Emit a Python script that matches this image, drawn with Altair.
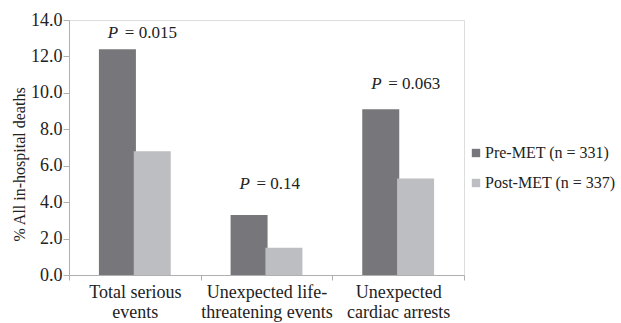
import altair as alt
import pandas as pd

categories = ["Total serious\nevents", "Unexpected life-\nthreatening events", "Unexpected\ncardiac arrests"]
groups = ["Pre-MET (n = 331)", "Post-MET (n = 337)"]
pre_values = [12.4, 3.3, 9.1]
post_values = [6.8, 1.5, 5.3]
p_values = ["= 0.015", "= 0.14", "= 0.063"]
p_label_y = [13.3, 5.0, 10.5]
colors = ["#77777b", "#bdbec1"]

rows = []
for c, a, b in zip(categories, pre_values, post_values):
    rows.append({"cat": c, "group": groups[0], "value": a})
    rows.append({"cat": c, "group": groups[1], "value": b})
df = pd.DataFrame(rows)
pdf = pd.DataFrame({"cat": categories, "p": p_values, "y": p_label_y, "P": ["P"] * 3})

FONT = "Liberation Serif"

x = alt.X("cat:N", sort=categories, title=None,
          scale=alt.Scale(paddingInner=0.0, paddingOuter=0.0),
          axis=alt.Axis(labelExpr="split(datum.label, '\\n')", labelAngle=0,
                        labelFontSize=18, labelLineHeight=20,
                        labelPadding=3, labelOverlap=False,
                        tickBand="extent", tickSize=5, labelLimit=300))

yaxis = alt.Axis(values=[0, 2, 4, 6, 8, 10, 12, 14], format=".1f", grid=False,
                 labelFontSize=18, labelOverlap=False, labelBound=False, labelFlush=False,
                 titleFontSize=16, titleFontWeight="normal",
                 titleX=-50, titleY=144, titleBaseline="middle", titleAlign="center",
                 titleAngle=270,
                 tickSize=6, labelPadding=1, tickCount=8)
yscale = alt.Scale(domain=[0, 14], nice=False, zero=True)

bars = alt.Chart(df).mark_bar(size=37).encode(
    x=x,
    xOffset=alt.XOffset("group:N", sort=groups,
                        scale=alt.Scale(paddingInner=0, paddingOuter=0.89)),
    y=alt.Y("value:Q", scale=yscale, title="% All in-hospital deaths", axis=yaxis),
    color=alt.Color("group:N", sort=groups,
                    scale=alt.Scale(domain=groups, range=colors),
                    legend=alt.Legend(title=None, orient="none", legendX=399, legendY=125,
                                      symbolType="square", symbolSize=70,
                                      symbolStrokeWidth=0,
                                      labelFontSize=16,
                                      rowPadding=14, labelOffset=1, labelLimit=300)),
)

ptext = alt.Chart(pdf).mark_text(fontSize=17, fontStyle="italic",
                                 align="left", dx=-27).encode(
    x=alt.X("cat:N", sort=categories),
    y=alt.Y("y:Q", scale=yscale, title="% All in-hospital deaths", axis=yaxis),
    text="P:N")
vtext = alt.Chart(pdf).mark_text(fontSize=17, align="left", dx=-10).encode(
    x=alt.X("cat:N", sort=categories),
    y=alt.Y("y:Q", scale=yscale, title="% All in-hospital deaths", axis=yaxis),
    text="p:N")

chart = alt.layer(bars, ptext, vtext).properties(
    width=395, height=255,
    autosize=alt.AutoSizeParams(type="none"),
    padding={"left": 69, "top": 20, "right": 157, "bottom": 48},
).configure_view(stroke=None).configure(
    background="white", font=FONT
).configure_axis(
    labelFont=FONT, titleFont=FONT, labelColor="#222222", titleColor="#222222",
    domainColor="#b0b0b0", tickColor="#b0b0b0"
).configure_legend(
    labelFont=FONT, labelColor="#222222"
).configure_text(
    font=FONT, color="#222222"
)

chart.save("out.html", embed_options={"renderer": "svg", "actions": False})
